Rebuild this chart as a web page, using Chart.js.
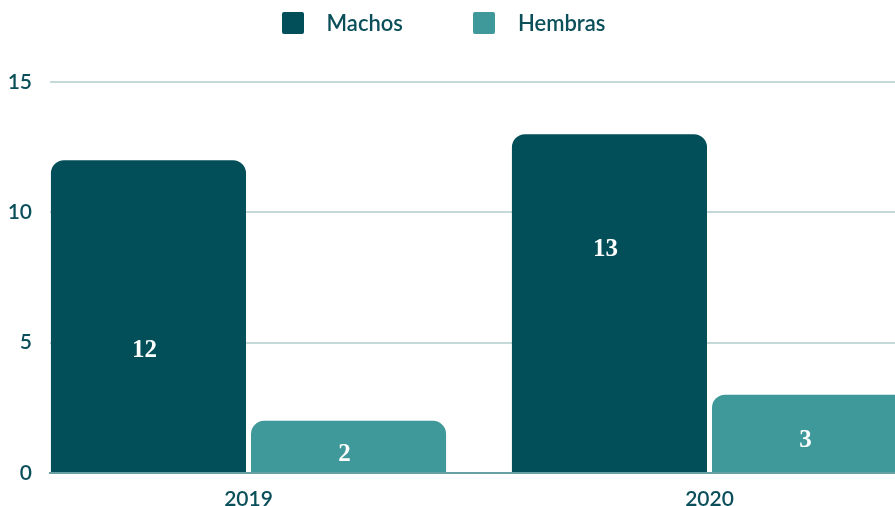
<!DOCTYPE html>
<html>
<head>
<meta charset="utf-8">
<script src="https://cdn.jsdelivr.net/npm/chart.js@4.4.1/dist/chart.umd.min.js"></script>
<style>
    body { margin: 0; background: #fff; overflow: hidden; font-family: Lato, sans-serif; }
    #wrap { position: relative; width: 895px; height: 506px; }
    #legend {
        position: absolute; top: 12px; left: 0; width: 895px;
        display: flex; justify-content: center; padding-right: 8px; box-sizing: border-box;
        color: #0b4f5a; font-size: 22px; line-height: 22px; font-weight: 600;
    }
    .item { display: flex; align-items: center; margin: 0 35px; }
    .box { width: 22px; height: 22px; border-radius: 2px; margin-right: 23px; }
</style>
</head>
<body>
<div id="wrap">
    <div id="legend"></div>
    <canvas id="chart"></canvas>
</div>
<script>
// data
const years = ['2019', '2020'];
const machos = [12, 13];
const hembras = [2, 3];
const seriesNames = ['Machos', 'Hembras'];
const seriesColors = ['#034f59', '#3f999a'];

// where each value label sits, as a share of its bar height
const labelAt = [[0.39, 0.66], [0.36, 0.41]];

const textColor = '#0b4f5a';

// legend (html, to get the wider gap between box and text)
const legend = document.getElementById('legend');
seriesNames.forEach((name, i) => {
    const item = document.createElement('div');
    item.className = 'item';
    item.innerHTML = `<span class="box" style="background:${seriesColors[i]}"></span><span>${name}</span>`;
    legend.appendChild(item);
});

const barLabels = {
    id: 'barLabels',
    afterDatasetsDraw(chart) {
        const ctx = chart.ctx;
        const yScale = chart.scales.y;
        ctx.save();
        ctx.beginPath();
        ctx.rect(chart.chartArea.left, chart.chartArea.top, chart.chartArea.width, chart.chartArea.height);
        ctx.clip();
        ctx.fillStyle = '#ffffff';
        ctx.font = 'bold 25px "Liberation Serif", serif';
        ctx.textAlign = 'center';
        ctx.textBaseline = 'middle';
        chart.data.datasets.forEach((ds, d) => {
            chart.getDatasetMeta(d).data.forEach((bar, i) => {
                const v = ds.data[i].y;
                ctx.fillText(String(v), bar.x - 4, yScale.getPixelForValue(v * labelAt[d][i]));
            });
        });
        ctx.restore();
    }
};

const ctx = document.getElementById('chart').getContext('2d');
new Chart(ctx, {
    type: 'bar',
    data: {
        datasets: [machos, hembras].map((vals, d) => ({
            label: seriesNames[d],
            data: vals.map((v, i) => ({ x: i, y: v })),
            backgroundColor: seriesColors[d],
            borderRadius: { topLeft: 13, topRight: 13 },
            borderSkipped: 'start',
            categoryPercentage: 0.868,
            barPercentage: 0.975
        }))
    },
    options: {
        responsive: true,
        maintainAspectRatio: false,
        animation: false,
        layout: { padding: { top: 82, left: 0, right: 0, bottom: 0 } },
        plugins: {
            legend: { display: false },
            tooltip: { enabled: false }
        },
        scales: {
            x: {
                type: 'linear',
                offset: false,
                min: -0.4306,
                max: 1.4024,
                z: 1,
                grid: { display: false },
                border: { display: true, color: '#66a0a3', width: 2 },
                afterBuildTicks: scale => {
                    scale.ticks = years.map((_, i) => ({ value: i }));
                },
                afterFit: scale => { scale.height = 33; },
                ticks: {
                    color: textColor,
                    font: { family: 'Lato', size: 21, weight: '600' },
                    padding: 6,
                    maxRotation: 0,
                    autoSkip: false,
                    callback: value => years[Math.round(value)]
                }
            },
            y: {
                min: 0,
                max: 15,
                afterFit: scale => { scale.width = 50; },
                border: { display: false },
                grid: {
                    drawTicks: false,
                    color: c => c.tick.value === 0 ? 'rgba(0,0,0,0)' : '#c6d9d9',
                    lineWidth: 2
                },
                ticks: {
                    stepSize: 5,
                    color: textColor,
                    font: { family: 'Lato', size: 21, weight: '600' },
                    padding: 18
                }
            }
        }
    },
    plugins: [barLabels]
});
</script>
</body>
</html>
